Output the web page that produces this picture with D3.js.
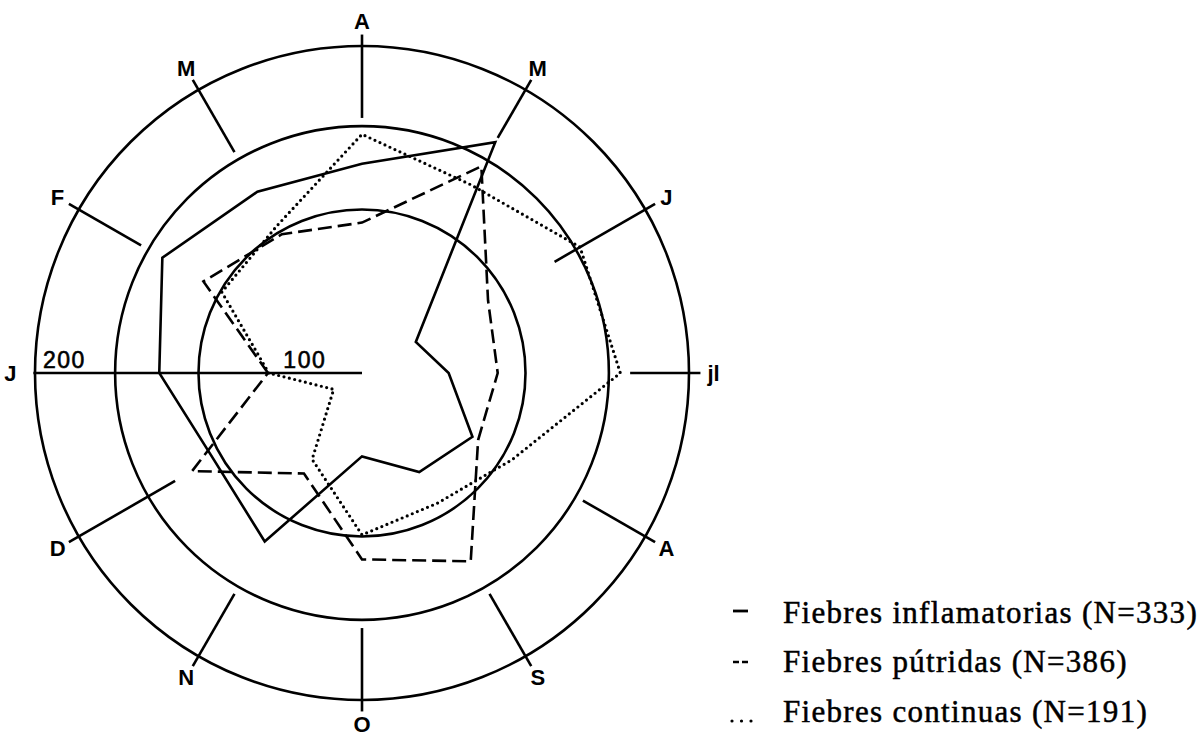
<!DOCTYPE html>
<html>
<head>
<meta charset="utf-8">
<script src="https://cdn.jsdelivr.net/npm/d3@7"></script>
<style>
  body { margin: 0; background: #fff; }
</style>
</head>
<body>
<svg id="chart"></svg>
<script>
// months, starting with January on the left, going clockwise
var months = ["J", "F", "M", "A", "M", "J", "jl", "A", "S", "O", "N", "D"];

// values (same radial scale as the 100 / 200 rings)
var inflamatorias = [124, 141, 128, 128, 163, 38, 53, 78, 70, 51, 119, 105];
var putridas      = [57.5, 112, 98, 92, 146, 89, 83, 82, 133, 114, 71, 120];
var continuas     = [57, 99, 104, 146, 133, 154, 158, 106, 92, 99, 61, 20];

var rings = [100, 151, 200];
var valueLabels = ["200", "100"];
var valueLabelAt = [200, 53];

var legendNames = [
  "Fiebres inflamatorias (N=333)",
  "Fiebres pútridas (N=386)",
  "Fiebres continuas (N=191)"
];

var svgWidth = 1201, svgHeight = 751;
var cx = 362, cy = 373;

var svg = d3.select("#chart")
    .attr("width", svgWidth)
    .attr("height", svgHeight);

svg.append("rect")
    .attr("width", svgWidth)
    .attr("height", svgHeight)
    .attr("fill", "#fff");

var rScale = d3.scaleLinear()
    .domain([0, 200])
    .range([0, 327]);

// month angle in radians, clockwise from 12 o'clock
var angle = function(i) { return (270 + 30 * i) * Math.PI / 180; };

var g = svg.append("g")
    .attr("transform", "translate(" + cx + "," + cy + ")");

// rings
g.selectAll("circle.ring")
    .data(rings)
    .enter()
    .append("circle")
    .attr("class", "ring")
    .attr("r", function(d) { return rScale(d); })
    .attr("fill", "none")
    .attr("stroke", "#000")
    .attr("stroke-width", 2.6);

// month spokes (where each one starts, in value units)
var spokeFrom = [0, 156, 156, 156, 166, 136, 164, 156, 156, 156, 156, 132];
var spokeTo   = [201, 207, 207, 207, 207, 207, 207, 207, 207, 207, 207, 207];

g.selectAll("line.spoke")
    .data(months)
    .enter()
    .append("line")
    .attr("class", "spoke")
    .attr("x1", function(d, i) { return rScale(spokeFrom[i]) * Math.sin(angle(i)); })
    .attr("y1", function(d, i) { return -rScale(spokeFrom[i]) * Math.cos(angle(i)); })
    .attr("x2", function(d, i) { return rScale(spokeTo[i]) * Math.sin(angle(i)); })
    .attr("y2", function(d, i) { return -rScale(spokeTo[i]) * Math.cos(angle(i)); })
    .attr("stroke", "#000")
    .attr("stroke-width", 2.6);

g.selectAll("text.month")
    .data(months)
    .enter()
    .append("text")
    .attr("class", "month")
    .attr("x", function(d, i) { return rScale(215) * Math.sin(angle(i)); })
    .attr("y", function(d, i) { return -rScale(215) * Math.cos(angle(i)); })
    .attr("text-anchor", "middle")
    .attr("dominant-baseline", "central")
    .style("font", "bold 22px 'Liberation Sans', Arial, sans-serif")
    .text(function(d) { return d; });

g.selectAll("text.vlabel")
    .data(valueLabels)
    .enter()
    .append("text")
    .attr("class", "vlabel")
    .attr("x", function(d, i) { return -rScale(valueLabelAt[i]) + 8; })
    .attr("y", -5)
    .style("font", "23px 'Liberation Sans', Arial, sans-serif")
    .style("letter-spacing", "1.5px")
    .style("stroke", "#000")
    .style("stroke-width", 0.6)
    .text(function(d) { return d; });

// series
var radial = d3.lineRadial()
    .angle(function(d, i) { return angle(i); })
    .radius(function(d) { return rScale(d); })
    .curve(d3.curveLinearClosed);

var series = [
  { values: inflamatorias, dash: null, cap: "butt", width: 2.6 },
  { values: putridas, dash: "14,6", cap: "butt", width: 2.6 },
  { values: continuas, dash: "0,5.5", cap: "round", width: 3.2 }
];

series.forEach(function(s) {
  g.append("path")
      .attr("d", radial(s.values))
      .attr("fill", "none")
      .attr("stroke", "#000")
      .attr("stroke-width", s.width)
      .attr("stroke-linejoin", "miter")
      .attr("stroke-linecap", s.cap)
      .attr("stroke-dasharray", s.dash);
});

// legend
var legendY = [623, 672, 722];
var lg = svg.append("g");

lg.selectAll("text.lname")
    .data(legendNames)
    .enter()
    .append("text")
    .attr("class", "lname")
    .attr("x", 783)
    .attr("y", function(d, i) { return legendY[i]; })
    .style("font", "31px 'Liberation Serif', 'Times New Roman', serif")
    .style("letter-spacing", "1.3px")
    .style("stroke", "#000")
    .style("stroke-width", 0.5)
    .text(function(d) { return d; });

lg.append("line")
    .attr("x1", 733).attr("x2", 748)
    .attr("y1", legendY[0] - 12).attr("y2", legendY[0] - 12)
    .attr("stroke", "#000").attr("stroke-width", 2.8);

lg.append("line")
    .attr("x1", 733).attr("x2", 749)
    .attr("y1", legendY[1] - 10).attr("y2", legendY[1] - 10)
    .attr("stroke", "#000").attr("stroke-width", 2.4)
    .attr("stroke-dasharray", "6,3");

lg.append("line")
    .attr("x1", 732).attr("x2", 752)
    .attr("y1", legendY[2] - 1).attr("y2", legendY[2] - 1)
    .attr("stroke", "#000").attr("stroke-width", 3.2)
    .attr("stroke-linecap", "round")
    .attr("stroke-dasharray", "0,9.5");
</script>
</body>
</html>
